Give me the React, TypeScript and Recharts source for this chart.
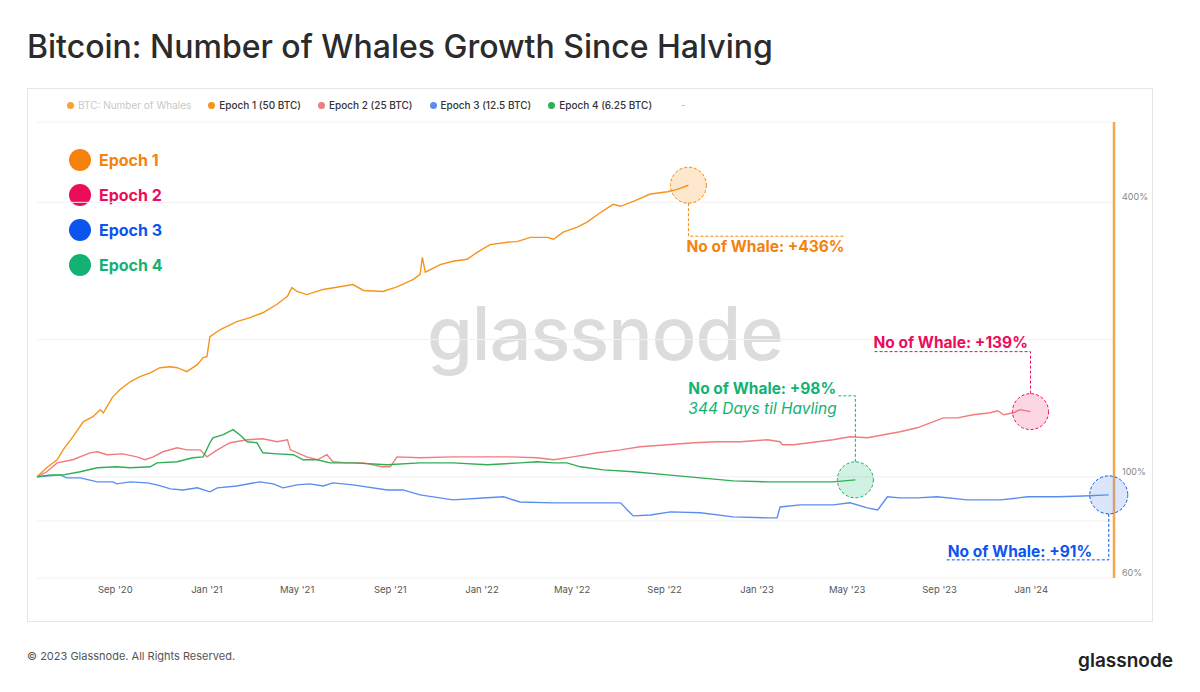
import React from 'react';
import { LineChart, Line, XAxis, YAxis, CartesianGrid, ReferenceLine, ReferenceDot } from 'recharts';

// x = days since the start of the plotted window, y = whale count as % of the halving-day count
const EPOCH_1: [number, number][] = [
  [0, 100], [13, 104.7], [27, 109], [35, 114.6], [48, 122.4], [62, 132], [75, 135.5], [85, 140.4],
  [89, 138.2], [101, 149.2], [111, 155.3], [125, 161.6], [138, 165.8], [152, 169.1], [165, 173.5],
  [179, 174.4], [188, 173.5], [201, 170.1], [215, 176.2], [223, 182.6], [228, 183.5], [232, 203],
  [246, 210.4], [268, 219], [286, 223.5], [303, 229], [322, 239], [336, 248.8], [342, 260], [349, 255],
  [362, 251], [384, 257.6], [424, 264], [438, 256.3], [464, 255], [483, 261], [505, 271], [514, 278],
  [517, 303], [521, 281], [541, 292], [558, 297], [577, 300], [591, 311], [608, 323], [631, 327],
  [644, 328], [662, 335], [685, 335], [693, 332], [706, 344], [725, 353], [738, 362], [756, 380],
  [773, 396], [783, 392], [800, 402], [823, 417], [846, 422], [859, 427], [874, 436],
];

const EPOCH_2: [number, number][] = [
  [0, 100], [13, 102.6], [27, 107.3], [48, 109], [71, 112.9], [81, 113.5], [94, 111.8], [115, 112.3],
  [134, 110.6], [145, 109], [156, 110.6], [169, 113.5], [188, 115.8], [201, 114.6], [219, 114.6],
  [228, 110.6], [242, 114.6], [259, 118.8], [282, 120.6], [303, 121.2], [322, 119.4], [336, 120.6],
  [340, 114.6], [362, 110.6], [376, 109], [389, 111.8], [397, 107.9], [416, 107.3], [438, 107.3],
  [463, 105.2], [474, 105.2], [483, 110.6], [514, 110.1], [558, 110.6], [604, 110.6], [635, 110.6],
  [671, 110.1], [693, 109], [719, 110.6], [752, 112.9], [783, 114.6], [809, 116.4], [846, 117.6],
  [881, 118.8], [913, 119.4], [944, 119.4], [980, 120.6], [997, 119.4], [1000, 117.6], [1015, 117.6],
  [1047, 119.4], [1068, 120.6], [1091, 122.4], [1114, 121.8], [1136, 123.7], [1158, 125.6],
  [1181, 128.1], [1203, 132.1], [1216, 134.7], [1235, 134.7], [1256, 136.8], [1279, 138.2],
  [1289, 139.6], [1297, 136.8], [1310, 138.2], [1319, 140.4], [1333, 139],
];

const EPOCH_3: [number, number][] = [
  [0, 100], [17, 100.5], [31, 101], [40, 99.5], [58, 99.5], [81, 97.5], [102, 97.5], [107, 96.5],
  [125, 97.5], [148, 97], [161, 96], [179, 94.1], [196, 93.6], [215, 94.6], [232, 92.7], [242, 94.6],
  [268, 95.5], [299, 97.5], [317, 96.5], [330, 94.6], [349, 96], [366, 96.5], [384, 95.5], [397, 97],
  [424, 96], [470, 93.6], [491, 93.6], [514, 91.3], [558, 89], [604, 90], [626, 90.4], [648, 88.1],
  [693, 87.7], [738, 87.7], [783, 87.7], [792, 84.6], [800, 82.1], [823, 82.5], [850, 83.8],
  [890, 83.4], [934, 81.7], [980, 81.3], [993, 81.3], [997, 85.9], [1024, 86.8], [1068, 86.8],
  [1091, 87.7], [1114, 85.5], [1128, 84.6], [1141, 90.4], [1158, 89.9], [1181, 89.9], [1208, 90.4],
  [1248, 89], [1293, 89], [1329, 90.4], [1369, 90.4], [1404, 90.8], [1438, 91.3],
];

const EPOCH_4: [number, number][] = [
  [0, 100], [17, 101], [35, 101], [58, 102.6], [81, 104.7], [107, 105.2], [125, 104.7], [152, 105.2],
  [161, 107.3], [188, 107.9], [209, 110.1], [223, 110.6], [232, 118.8], [236, 121.8], [250, 123.7],
  [263, 126.9], [272, 123.7], [282, 119.4], [295, 118.8], [303, 112.9], [322, 112.3], [344, 111.8],
  [357, 109], [376, 109], [393, 107.3], [424, 107.3], [470, 106.3], [514, 107.3], [558, 107.3],
  [604, 106.3], [648, 107.3], [671, 107.9], [693, 107.3], [711, 107.3], [729, 105.2], [760, 103.6],
  [800, 102.6], [846, 101], [890, 99.5], [934, 98], [980, 97.5], [1024, 97.5], [1068, 97.5], [1098, 98.5],
];

const DAY_TICKS = [105, 228, 349, 474, 597, 718, 842, 966, 1087, 1211, 1334];
const DAY_TICK_LABELS = ["Sep '20", "Jan '21", "May '21", "Sep '21", "Jan '22", "May '22", "Sep '22", "Jan '23", "May '23", "Sep '23", "Jan '24"];
const PCT_TICKS = [60, 80, 100, 200, 400, 600];
const PCT_LABELED = [60, 100, 400];
const X_END = 1445;

const FONT = "Inter, 'Noto Sans', sans-serif";

const series = [
  { key: 'e1', name: 'Epoch 1 (50 BTC)', short: 'Epoch 1', data: EPOCH_1, line: '#f7931a', strong: '#f5820d', label: 'No of Whale: +436%' },
  { key: 'e2', name: 'Epoch 2 (25 BTC)', short: 'Epoch 2', data: EPOCH_2, line: '#f07d7d', strong: '#ec0c5c', label: 'No of Whale: +139%' },
  { key: 'e3', name: 'Epoch 3 (12.5 BTC)', short: 'Epoch 3', data: EPOCH_3, line: '#5b8def', strong: '#0b55ee', label: 'No of Whale: +91%' },
  { key: 'e4', name: 'Epoch 4 (6.25 BTC)', short: 'Epoch 4', data: EPOCH_4, line: '#2fae55', strong: '#12b274', label: 'No of Whale: +98%' },
];

// callout geometry relative to the last point of each series (px)
const callouts: Record<string, any> = {
  e1: { r: 18, fill: '#f7931a', path: [[0, 18], [0, 51], [157, 51]], text: [{ dx: -2, dy: 67, bold: true }] },
  e2: { r: 18, fill: '#f2467a', path: [[0, -18], [0, -60], [-157, -60]], text: [{ dx: -157, dy: -64, bold: true }] },
  e3: { r: 19, fill: '#5b8def', path: [[0, 19], [0, 65], [-163, 65]], text: [{ dx: -161, dy: 62, bold: true }] },
  e4: {
    r: 18, fill: '#2fbf7a', path: [[0, -18], [0, -84], [-18, -84]],
    text: [{ dx: -167, dy: -86, bold: true }, { dx: -167, dy: -66, italic: true, value: '344 Days til Havling' }],
  },
};

const Callout = ({ cx, cy, s }: any) => {
  const c = callouts[s.key];
  if (cx == null || cy == null) return null;
  const pts = c.path.map(([dx, dy]: number[]) => `${cx + dx},${cy + dy}`).join(' ');
  return (
    <g>
      <circle cx={cx} cy={cy} r={c.r} fill={c.fill} fillOpacity={0.22} stroke={s.strong} strokeWidth={1} strokeDasharray="3 2" />
      <polyline points={pts} fill="none" stroke={s.strong} strokeWidth={1} strokeDasharray="3 2" />
      {c.text.map((t: any, i: number) => (
        <text key={i} x={cx + t.dx} y={cy + t.dy} fill={s.strong} fontFamily={FONT} fontSize={15.5}
          fontWeight={t.bold ? 700 : 400} fontStyle={t.italic ? 'italic' : 'normal'}>
          {t.value ?? s.label}
        </text>
      ))}
    </g>
  );
};

const YTick = ({ x, y, payload }: any) =>
  PCT_LABELED.includes(payload.value) ? (
    <text x={x} y={y - 2} fill="#888" fontSize={9} fontFamily={FONT}>{payload.value}%</text>
  ) : null;

export default function App() {
  return (
    <div style={{ position: 'relative', width: 1200, height: 692, background: '#fff', fontFamily: FONT, overflow: 'hidden' }}>
      <style>{'body{margin:0}'}</style>
      <svg width={1200} height={692} style={{ position: 'absolute', left: 0, top: 0 }}>
        <text x={27} y={58} fontSize={32} fontWeight={500} fill="#2b2b2b" fontFamily={FONT}>
          Bitcoin: Number of Whales Growth Since Halving
        </text>
        <rect x={27.5} y={88.5} width={1125} height={533} fill="none" stroke="#e6e6e6" />
        <text x={27} y={660} fontSize={11} fill="#555" fontFamily={FONT}>© 2023 Glassnode. All Rights Reserved.</text>
        <text x={1173} y={667} fontSize={19} fontWeight={600} fill="#222" textAnchor="end" fontFamily={FONT}>glassnode</text>
      </svg>

      {/* watermark */}
      <div style={{ position: 'absolute', left: 427, top: 300, fontSize: 74, lineHeight: 0.9, fontWeight: 500, color: '#dcdcdc', letterSpacing: -1, whiteSpace: 'nowrap' }}>
        glassnode
      </div>

      <div style={{ position: 'absolute', left: 67, top: 99, display: 'flex', gap: 17, fontSize: 10, lineHeight: '12px', color: '#333', fontWeight: 500 }}>
        <span style={{ display: 'flex', alignItems: 'center', color: '#c8c8c8', fontWeight: 400 }}>
          <span style={{ width: 7, height: 7, borderRadius: 4, background: '#f7a13a', marginRight: 4 }} />BTC: Number of Whales
        </span>
        {series.map((s) => (
          <span key={s.key} style={{ display: 'flex', alignItems: 'center' }}>
            <span style={{ width: 7, height: 7, borderRadius: 4, background: s.line, marginRight: 4 }} />{s.name}
          </span>
        ))}
        <span style={{ color: '#bbb', marginLeft: 12 }}>-</span>
      </div>

      <div style={{ position: 'absolute', left: 0, top: 0 }}>
        {series.map((s, i) => (
          <div key={s.key} style={{ position: 'absolute', left: 69, top: 149 + i * 35, display: 'flex', alignItems: 'center', whiteSpace: 'nowrap' }}>
            <span style={{ width: 22, height: 22, borderRadius: 11, background: s.strong, marginRight: 8 }} />
            <span style={{ color: s.strong, fontSize: 16, fontWeight: 700 }}>{s.short}</span>
          </div>
        ))}
      </div>

      <div style={{ position: 'absolute', left: 27, top: 88 }}>
        <LineChart width={1126} height={534} margin={{ top: 34, right: 3, bottom: 14, left: 10 }}>
          <CartesianGrid vertical={false} stroke="#f0f0f0" />
          <XAxis
            type="number"
            dataKey="day"
            domain={[0, X_END]}
            ticks={DAY_TICKS}
            tickFormatter={(v) => DAY_TICK_LABELS[DAY_TICKS.indexOf(v)] ?? ''}
            axisLine={false}
            tickLine={false}
            height={30}
            tick={{ fontSize: 9.5, fill: '#555', fontFamily: FONT }}
          />
          <YAxis
            orientation="right"
            scale="log"
            domain={[60, 600]}
            allowDataOverflow
            ticks={PCT_TICKS}
            axisLine={false}
            tickLine={false}
            width={36}
            tick={<YTick />}
          />
          <ReferenceLine x={X_END} stroke="#f6a84f" strokeWidth={2.5} />
          {series.map((s) => (
            <Line
              key={s.key}
              data={s.data.map(([day, pct]) => ({ day, pct }))}
              dataKey="pct"
              type="linear"
              stroke={s.line}
              strokeWidth={1.4}
              dot={false}
              isAnimationActive={false}
            />
          ))}
          {series.map((s) => {
            const [day, pct] = s.data[s.data.length - 1];
            return (
              <ReferenceDot key={`c-${s.key}`} x={day} y={pct} r={callouts[s.key].r} shape={(p: any) => <Callout cx={p.cx} cy={p.cy} s={s} />} />
            );
          })}
        </LineChart>
      </div>
    </div>
  );
}
